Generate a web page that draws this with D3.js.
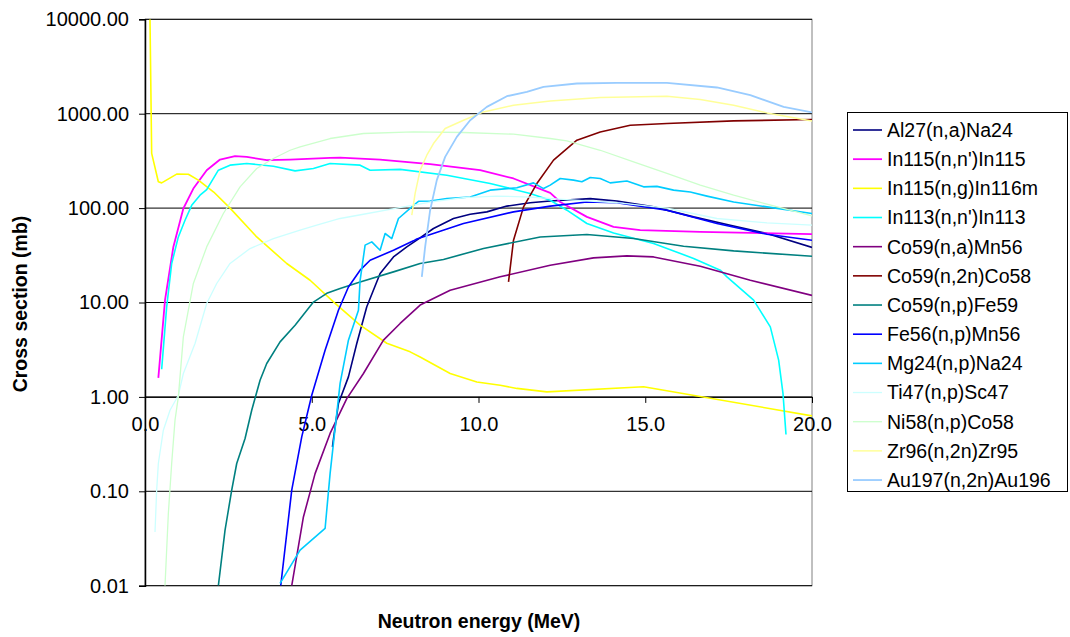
<!DOCTYPE html>
<html>
<head>
<meta charset="utf-8">
<script src="https://cdn.jsdelivr.net/npm/d3@7"></script>
<style>
  html, body { margin: 0; padding: 0; background: #fff; }
  svg { display: block; font-family: "Liberation Sans", Arial, sans-serif; }
</style>
</head>
<body>
<svg id="chart" width="1070" height="637"></svg>
<script>
// ---------------- DATA (energy MeV, cross section mb) ----------------
const seriesNames = [
  "Al27(n,a)Na24", "In115(n,n')In115", "In115(n,g)In116m", "In113(n,n')In113",
  "Co59(n,a)Mn56", "Co59(n,2n)Co58", "Co59(n,p)Fe59", "Fe56(n,p)Mn56",
  "Mg24(n,p)Na24", "Ti47(n,p)Sc47", "Ni58(n,p)Co58", "Zr96(n,2n)Zr95",
  "Au197(n,2n)Au196"
];

const al27 = [[5.62,0.295],[5.7,0.48],[5.8,0.85],[6.1,1.63],[6.35,3.68],[6.65,9.0],[7.05,20.3],[7.45,30.4],[7.85,38.8],[8.15,45.7],[8.65,60.8],[9.25,77.6],[9.75,86.1],[10.25,91.2],[10.85,105],[11.55,114],[12.15,119],[13.35,126],[14.15,119],[15.25,103],[16.45,80.7],[17.55,65.9],[18.65,53.8],[20.0,38.3]];
const in115nn = [[0.4,1.59],[0.6,10.6],[0.85,38.8],[1.15,99],[1.45,161],[1.85,252],[2.25,327],[2.7,355],[3.05,349],[3.65,322],[4.35,327],[5.55,340],[5.85,343],[7.05,327],[8.55,292],[10.05,252],[11.05,206],[12.15,145],[12.45,116],[13.25,80.7],[14.05,63.2],[14.85,58.3],[16.65,56],[20.0,53]];
const in115ng = [[0.15,10000],[0.2,380],[0.4,190],[0.5,185],[0.95,229],[1.3,228],[1.6,198],[2.06,148],[2.55,100],[3.35,49.5],[4.25,25.9],[4.95,17.2],[5.7,9.8],[6.45,5.75],[7.25,3.7],[7.95,3.0],[8.25,2.65],[9.15,1.77],[9.95,1.44],[10.65,1.33],[11.15,1.23],[12.05,1.13],[14.95,1.28],[20.0,0.63]];
const in113nn = [[0.5,1.96],[0.65,8.98],[0.8,25.9],[1.0,49.5],[1.2,74.4],[1.4,107],[1.65,137],[1.85,157],[2.2,252],[2.55,285],[3.05,297],[3.85,278],[4.5,248],[5.05,263],[5.55,297],[6.45,285],[6.75,252],[7.65,257],[9.05,223],[10.35,182],[11.55,143],[12.15,121],[12.65,95],[13.25,68.7],[14.05,54.6],[15.25,42.2],[16.45,29.3],[17.25,22],[17.45,18.7],[18.25,10.6],[18.75,5.52],[19.0,2.45],[19.13,1.09],[19.22,0.40]];
const co59na = [[4.4,0.01],[4.75,0.0535],[5.1,0.154],[5.55,0.41],[6.05,0.96],[6.55,1.77],[7.15,3.99],[7.65,6.0],[8.25,9.4],[9.15,13.5],[10.65,18.7],[12.15,24.8],[13.45,29.7],[14.45,31.2],[15.25,30.4],[16.65,24.2],[18.15,17.2],[20.0,11.9]];
const co59n2n = [[10.9,16.5],[11.05,45.7],[11.35,103],[11.75,182],[12.25,322],[12.95,524],[13.65,641],[14.55,755],[15.65,787],[17.65,839],[20.0,868]];
const co59np = [[2.2,0.01],[2.4,0.0387],[2.6,0.103],[2.75,0.197],[3.0,0.362],[3.2,0.723],[3.45,1.5],[3.65,2.26],[4.05,3.83],[4.5,5.75],[5.05,10.1],[5.45,12.5],[5.85,14.1],[6.45,16.5],[7.45,21.1],[8.25,25.9],[8.95,28.6],[10.15,37.3],[11.85,49.5],[13.25,52.5],[14.65,47.6],[16.15,39.5],[17.65,35.2],[20.0,30.9]];
const fe56np = [[4.07,0.01],[4.4,0.103],[4.7,0.377],[5.0,1.04],[5.4,3.12],[5.8,8.28],[6.1,14.6],[6.45,22],[6.75,28],[7.45,35.8],[8.05,45],[8.15,47],[9.55,68.7],[11.05,91.2],[12.15,105],[13.25,116],[14.15,114],[15.65,95],[17.15,68.7],[18.65,52.9],[20.0,45.7]];
const mg24np = [[4.05,0.0106],[4.65,0.0238],[5.4,0.0404],[5.55,0.154],[5.85,1.39],[6.1,3.99],[6.4,8.28],[6.45,17.2],[6.6,40.5],[6.8,43.9],[7.05,35.8],[7.2,53.8],[7.4,47.6],[7.6,77.6],[8.0,103],[8.2,118],[8.55,119],[9.05,126],[9.75,131],[10.35,155],[11.15,164],[11.65,185],[11.95,161],[12.15,175],[12.45,206],[12.85,198],[13.1,190],[13.35,211],[13.65,206],[13.95,185],[14.45,194],[14.95,168],[15.35,170],[15.85,155],[16.35,148],[16.85,134],[17.65,116],[18.65,103],[20.0,87.7]];
const ti47np = [[0.3,0.037],[0.35,0.103],[0.4,0.197],[0.55,0.444],[0.75,0.723],[1.0,1.04],[1.15,1.77],[1.5,3.68],[1.85,9.76],[2.15,15.9],[2.55,25.9],[3.15,37.3],[3.85,47.6],[4.65,58.3],[5.15,65.9],[5.85,77.6],[6.55,86.1],[7.55,100],[8.55,116],[9.55,129],[10.55,134],[11.55,131],[12.65,123],[14.15,114],[15.65,100],[17.15,77.6],[18.65,69.7],[20.0,65.9]];
const ni58np = [[0.6,0.01],[0.7,0.0582],[0.8,0.197],[0.9,0.567],[1.0,1.0],[1.15,4.32],[1.45,15.9],[1.85,38.8],[2.35,87.7],[2.85,168],[3.35,263],[3.85,335],[4.35,410],[4.65,445],[5.55,546],[6.55,617],[8.05,641],[9.55,632],[11.05,607],[12.15,546],[12.65,515],[13.65,410],[14.65,309],[15.65,233],[16.65,175],[17.65,137],[18.65,110],[20.0,82.7]];
const zr96n2n = [[8.0,84.1],[8.1,143],[8.25,252],[8.45,363],[8.65,483],[9.0,697],[9.55,853],[10.15,1045],[11.05,1230],[12.15,1367],[13.65,1485],[15.65,1532],[16.65,1414],[17.65,1230],[18.65,1020],[20.0,839]];
const au197n2n = [[8.3,18.7],[8.4,38.8],[8.55,95],[8.75,198],[9.0,349],[9.35,568],[9.75,853],[10.25,1181],[10.85,1532],[11.45,1702],[11.95,1923],[12.95,2089],[14.15,2119],[15.65,2119],[17.15,1895],[18.15,1571],[19.15,1181],[20.0,1030]];

const seriesData = [al27, in115nn, in115ng, in113nn, co59na, co59n2n, co59np, fe56np, mg24np, ti47np, ni58np, zr96n2n, au197n2n];

const yTickValues = [0.01, 0.1, 1, 10, 100, 1000, 10000];
const xTickValues = [0, 5, 10, 15, 20];
const xTitle = "Neutron energy (MeV)";
const yTitle = "Cross section (mb)";

// ---------------- STYLES ----------------
const seriesColors = ["#000080","#FF00FF","#FFFF00","#00FFFF","#800080","#800000","#008080","#0000FF","#00CCFF","#CCFFFF","#CCFFCC","#FFFF99","#99CCFF"];
const seriesWidths = [1.6,1.8,1.6,1.6,1.6,1.6,1.6,1.6,1.6,1.3,1.3,1.5,1.8];

// ---------------- LAYOUT ----------------
const svg = d3.select("#chart");
const plot = { left: 145, right: 812, top: 19.3, bottom: 585.7 };

const x = d3.scaleLinear().domain([0, 20]).range([plot.left, plot.right]);
const y = d3.scaleLog().domain([0.01, 10000]).range([plot.bottom, plot.top]);

// plot border (gray)
svg.append("rect")
  .attr("x", plot.left).attr("y", plot.top)
  .attr("width", plot.right - plot.left).attr("height", plot.bottom - plot.top)
  .attr("fill", "none").attr("stroke", "#808080").attr("stroke-width", 1);

// gridlines
svg.append("g").selectAll("line").data(yTickValues).join("line")
  .attr("x1", plot.left).attr("x2", plot.right)
  .attr("y1", d => y(d)).attr("y2", d => y(d))
  .attr("stroke", "#000").attr("stroke-width", 1);

// y axis
const yAxis = d3.axisLeft(y).tickValues(yTickValues).tickFormat(d3.format(".2f")).tickSize(6).tickPadding(10);
const gy = svg.append("g").attr("transform", `translate(${plot.left},0)`).call(yAxis);
gy.select(".domain").attr("stroke", "#000").attr("stroke-width", 1.5);
gy.selectAll(".tick line").attr("stroke", "#000");
gy.selectAll(".tick text").attr("font-size", 20).attr("fill", "#000")
  .attr("font-family", "'Liberation Sans', Arial, sans-serif");

// x axis crossing at 1.00
const xAxis = d3.axisBottom(x).tickValues(xTickValues).tickFormat(d3.format(".1f")).tickSize(6).tickPadding(14);
const gx = svg.append("g").attr("transform", `translate(0,${y(1)})`).call(xAxis);
gx.select(".domain").attr("stroke", "#000");
gx.selectAll(".tick line").attr("stroke", "#000");
gx.selectAll(".tick text").attr("font-size", 20).attr("fill", "#000")
  .attr("font-family", "'Liberation Sans', Arial, sans-serif");

// clip
svg.append("clipPath").attr("id", "clip").append("rect")
  .attr("x", plot.left).attr("y", plot.top)
  .attr("width", plot.right - plot.left).attr("height", plot.bottom - plot.top);

const line = d3.line().x(d => x(d[0])).y(d => y(d[1]));
svg.append("g").attr("clip-path", "url(#clip)")
  .selectAll("path").data(seriesData).join("path")
  .attr("d", line)
  .attr("fill", "none")
  .attr("stroke", (d, i) => seriesColors[i])
  .attr("stroke-width", (d, i) => seriesWidths[i])
  .attr("stroke-linejoin", "round");

// axis titles
svg.append("text")
  .attr("x", (plot.left + plot.right) / 2 + 0.5).attr("y", 628)
  .attr("text-anchor", "middle").attr("font-weight", "bold").attr("font-size", 19.5)
  .text(xTitle);
svg.append("text")
  .attr("transform", "translate(27,304) rotate(-90)")
  .attr("text-anchor", "middle").attr("font-weight", "bold").attr("font-size", 19.5)
  .text(yTitle);

// legend
const lg = svg.append("g");
lg.append("rect").attr("x", 847.5).attr("y", 112.5).attr("width", 220).attr("height", 379)
  .attr("fill", "#fff").attr("stroke", "#000").attr("stroke-width", 1);
const rows = lg.selectAll("g.row").data(seriesNames).join("g")
  .attr("class", "row")
  .attr("transform", (d, i) => `translate(0,${130 + i * 29.17})`);
rows.append("line").attr("x1", 853).attr("x2", 882).attr("y1", 0).attr("y2", 0)
  .attr("stroke", (d, i) => seriesColors[i]).attr("stroke-width", (d, i) => seriesWidths[i]);
rows.append("text").attr("x", 887).attr("y", 0).attr("dy", "0.35em")
  .attr("font-size", 19.5).attr("fill", "#000").text(d => d);
</script>
</body>
</html>
